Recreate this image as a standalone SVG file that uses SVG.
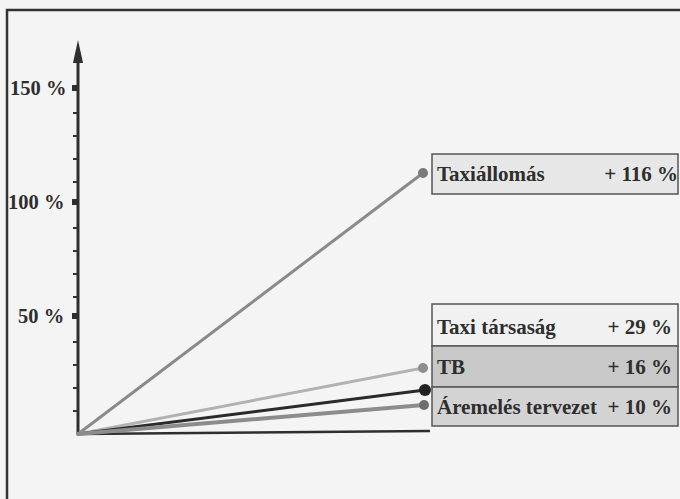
<svg xmlns="http://www.w3.org/2000/svg" width="680" height="499" viewBox="0 0 680 499">
<style>
.lbl{font-family:"Liberation Serif","Times New Roman",serif;font-weight:bold;font-size:21px;fill:#2e2e2e}
.ax{font-size:20.5px}
.box{stroke:#555;stroke-width:1.5}
.tick{stroke:#333;stroke-width:2}
.dot{fill:#2e2e2e}
.ln{fill:none;stroke-linecap:round}
</style>
<rect x="0" y="0" width="680" height="499" fill="#f4f4f4"/>
<path d="M7,499 V10 H680" fill="none" stroke="#333" stroke-width="2.5"/>

<g id="axes">
  <line x1="78" y1="434" x2="78" y2="58" stroke="#2e2e2e" stroke-width="3"/>
  <polygon points="78,40 73,63 83,63" fill="#2e2e2e"/>
  <line x1="78" y1="434" x2="430" y2="431" stroke="#2e2e2e" stroke-width="2.5"/>
  <g class="tick">
    <line x1="73" y1="411" x2="78" y2="411"/>
    <line x1="73" y1="388" x2="78" y2="388"/>
    <line x1="73" y1="365" x2="78" y2="365"/>
    <line x1="73" y1="342" x2="78" y2="342"/>
    <line x1="73" y1="297" x2="78" y2="297"/>
    <line x1="73" y1="274" x2="78" y2="274"/>
    <line x1="73" y1="251" x2="78" y2="251"/>
    <line x1="73" y1="228" x2="78" y2="228"/>
    <line x1="73" y1="182" x2="78" y2="182"/>
    <line x1="73" y1="159" x2="78" y2="159"/>
    <line x1="73" y1="136" x2="78" y2="136"/>
    <line x1="73" y1="113" x2="78" y2="113"/>
  </g>
  <rect class="dot" x="72" y="85" width="6" height="6"/>
  <rect class="dot" x="72" y="199" width="6" height="6"/>
  <rect class="dot" x="72" y="313" width="6" height="6"/>
  <text class="lbl ax" x="10" y="95">150 %</text>
  <text class="lbl ax" x="8" y="209">100 %</text>
  <text class="lbl ax" x="18" y="323">50 %</text>
</g>

<g id="connectors">
  <line class="ln" x1="78" y1="434" x2="423" y2="173" stroke="#8a8a8a" stroke-width="3"/>
  <line class="ln" x1="78" y1="434" x2="423" y2="368" stroke="#b2b2b2" stroke-width="3"/>
  <line class="ln" x1="78" y1="434" x2="425" y2="390" stroke="#2a2a2a" stroke-width="3"/>
  <line class="ln" x1="78" y1="434" x2="424" y2="405" stroke="#8c8c8c" stroke-width="4"/>
  <circle cx="423" cy="173" r="5" fill="#7a7a7a"/>
  <circle cx="423" cy="368" r="5" fill="#8e8e8e"/>
  <circle cx="425" cy="390" r="6" fill="#222"/>
  <circle cx="424" cy="405" r="5" fill="#6e6e6e"/>
</g>

<g id="taxiallomas">
  <rect class="box" x="432" y="154" width="246" height="40" fill="#e7e7e7"/>
  <text class="lbl" x="437" y="181">Taxiállomás</text>
  <text class="lbl" x="678" y="181" text-anchor="end">+ 116 %</text>
</g>

<g id="taxi-tarsasag">
  <rect class="box" x="432" y="304" width="246" height="42" fill="#f1f1f1"/>
  <text class="lbl" x="437" y="334">Taxi társaság</text>
  <text class="lbl" x="672" y="334" text-anchor="end">+ 29 %</text>
</g>

<g id="tb">
  <rect class="box" x="432" y="346" width="246" height="41" fill="#c8c8c8"/>
  <text class="lbl" x="437" y="374">TB</text>
  <text class="lbl" x="672" y="374" text-anchor="end">+ 16 %</text>
</g>

<g id="aremeles">
  <rect class="box" x="432" y="387" width="246" height="39" fill="#d3d3d3"/>
  <text class="lbl" x="437" y="414">Áremelés tervezet</text>
  <text class="lbl" x="672" y="414" text-anchor="end">+ 10 %</text>
</g>
</svg>
